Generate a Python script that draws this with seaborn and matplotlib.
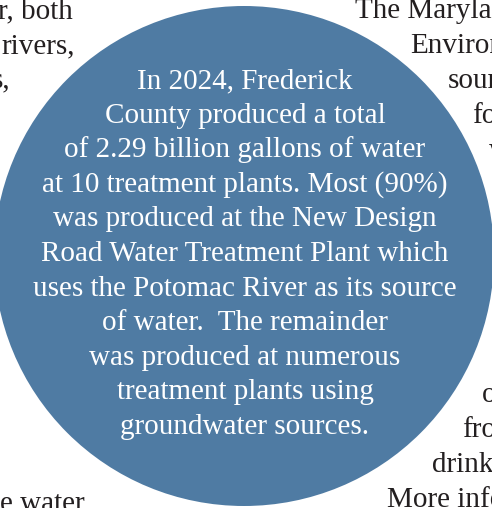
import matplotlib
matplotlib.use('Agg')
import matplotlib.pyplot as plt
from matplotlib.patches import Circle
import seaborn as sns

sns.set_style('white')
plt.rcParams['font.family'] = ['Liberation Serif', 'DejaVu Serif']

# text inside the circle
inner_lines = [
    'In 2024, Frederick',
    'County produced a total',
    'of 2.29 billion gallons of water',
    'at 10 treatment plants. Most (90%)',
    'was produced at the New Design',
    'Road Water Treatment Plant which',
    'uses the Potomac River as its source',
    'of water.  The remainder',
    'was produced at numerous',
    'treatment plants using',
    'groundwater sources.',
]

# fragments of the surrounding page text (visible parts only)
left_bits = ['r, both', 'rivers,', 's,']
left_x = [73, 1, 10]
left_ha = ['right', 'left', 'right']
left_row = [0, 1, 2]

right_bits = ['The Maryland', 'Environment', 'source', 'for', 'w',
              'o', 'from', 'drinking', 'More info']
right_x = [355, 410, 448, 472, 489, 482, 462, 432, 387]
right_row = [0, 1, 2, 3, 4, 11, 12, 13, 14]

bottom_left = 'e water'

W, H = 492, 508
fig = plt.figure(figsize=(W / 100, H / 100), dpi=100)
ax = fig.add_axes([0, 0, 1, 1])
ax.set_xlim(0, W)
ax.set_ylim(H, 0)
ax.axis('off')

fs = 21
step = 34.9
dark = '#231f20'

for t, x, ha, r in zip(left_bits, left_x, left_ha, left_row):
    ax.text(x, 18 + r * step, t, fontsize=fs, color=dark, ha=ha, va='baseline')
for t, x, r in zip(right_bits, right_x, right_row):
    ax.text(x, 18 + r * step, t, fontsize=fs, color=dark, ha='left', va='baseline')
ax.text(85, 511, bottom_left, fontsize=fs, color=dark, ha='right', va='baseline')

circ = Circle((244, 256), 250, facecolor='#4f7ba3', edgecolor='none', zorder=2)
ax.add_patch(circ)

for i, line in enumerate(inner_lines):
    ax.text(245, 88 + i * 34.6, line, fontsize=fs, color='white',
            ha='center', va='baseline', zorder=3)

fig.savefig('out.png', dpi=100)
